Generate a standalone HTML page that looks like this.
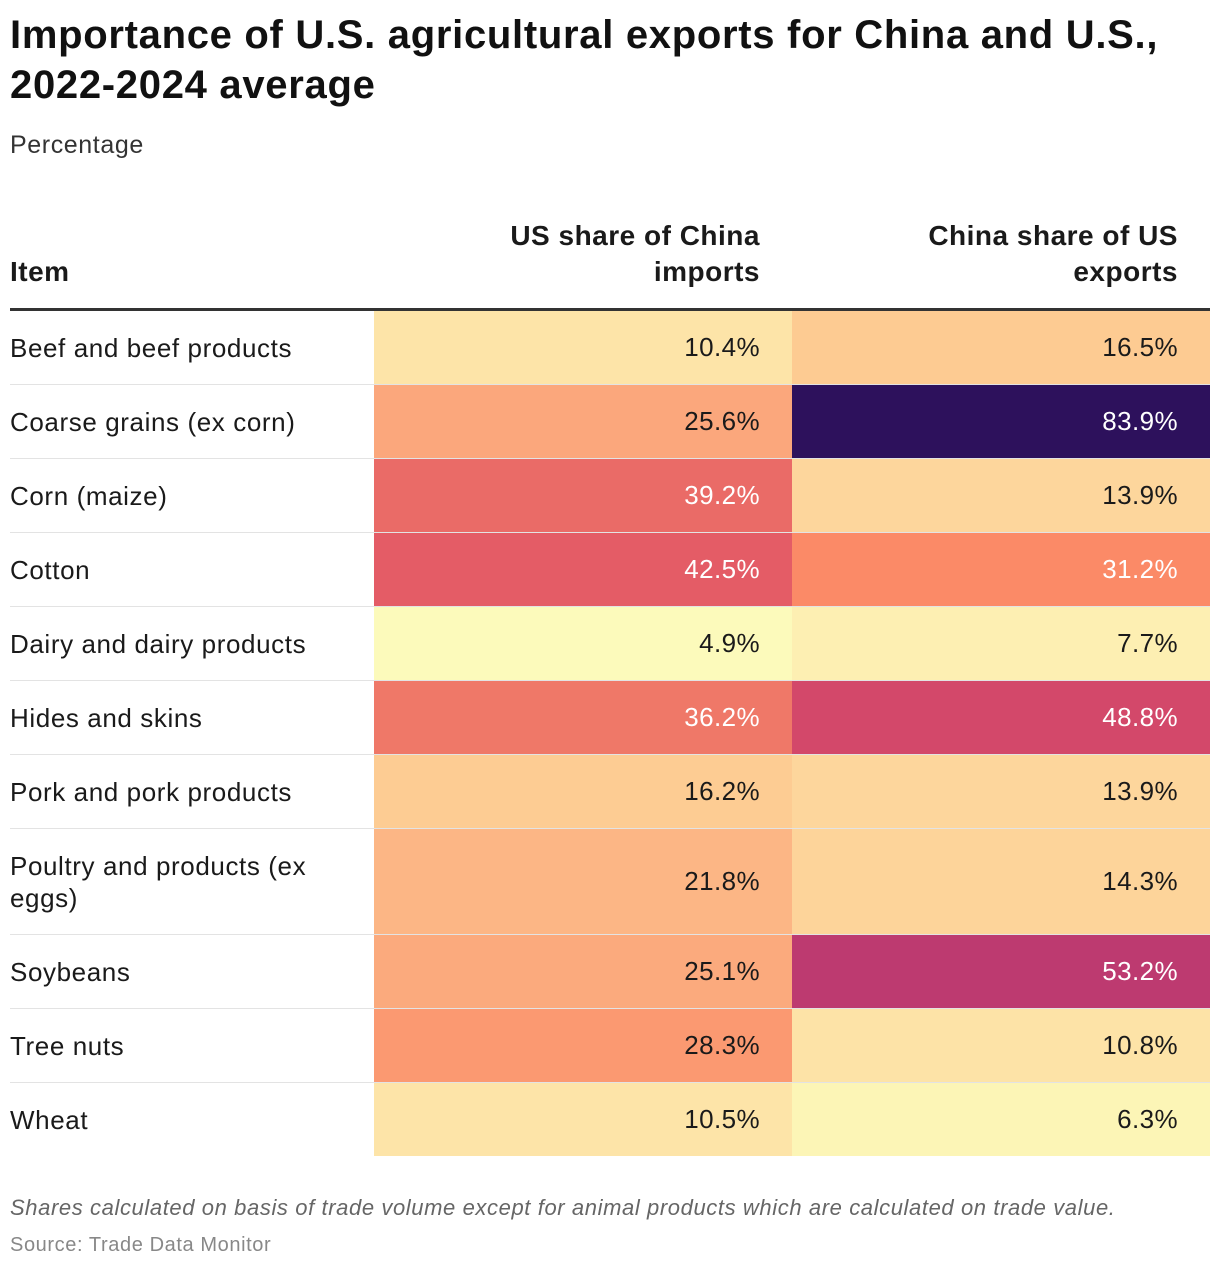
<!DOCTYPE html>
<html><head><meta charset="utf-8">
<style>
body{margin:0;background:#fff;font-family:"Liberation Sans",Arial,sans-serif;color:#1a1a1a;letter-spacing:0.6px;}
#wrap{position:relative;width:1220px;height:1270px;overflow:hidden;}
h1{position:absolute;left:10px;top:10px;margin:0;font-size:40px;line-height:50px;font-weight:bold;color:#111;width:1210px;letter-spacing:0.7px;}
.sub{position:absolute;left:10px;top:131px;font-size:25px;color:#333;}
table{position:absolute;left:10px;top:200px;border-collapse:collapse;width:1200px;}
th{font-size:28px;font-weight:bold;text-align:right;vertical-align:bottom;padding:0 32px 18px 0;line-height:36px;border-bottom:3px solid #333;height:90px;letter-spacing:0.5px;}
th.item{text-align:left;padding-left:0;}
td{font-size:26px;height:73px;border-bottom:1px solid #e3e3e3;padding:0;}
tr:last-child td{border-bottom:none;}
td.name{padding-left:0;line-height:32px;}
td.val{text-align:right;padding-right:32px;letter-spacing:0.4px;}
.foot{position:absolute;left:10px;top:1195px;font-size:22px;font-style:italic;color:#666;}
.src{position:absolute;left:10px;top:1234px;font-size:20px;color:#888;}
</style></head><body>
<div id="wrap">
<h1>Importance of U.S. agricultural exports for China and U.S., 2022-2024 average</h1>
<div class="sub">Percentage</div>
<table>
<colgroup><col style="width:364px"><col style="width:418px"><col style="width:418px"></colgroup>
<thead><tr>
<th class="item">Item</th>
<th>US share of China<br>imports</th>
<th>China share of US<br>exports</th>
</tr></thead>
<tbody id="tb"></tbody>
</table>
<div class="foot">Shares calculated on basis of trade volume except for animal products which are calculated on trade value.</div>
<div class="src">Source: Trade Data Monitor</div>
</div>
<script>
const categories=["Beef and beef products","Coarse grains (ex corn)","Corn (maize)","Cotton","Dairy and dairy products","Hides and skins","Pork and pork products","Poultry and products (ex eggs)","Soybeans","Tree nuts","Wheat"];
const usShareChinaImports=[10.4,25.6,39.2,42.5,4.9,36.2,16.2,21.8,25.1,28.3,10.5];
const chinaShareUsExports=[16.5,83.9,13.9,31.2,7.7,48.8,13.9,14.3,53.2,10.8,6.3];
const colorStops=[[0,"#fcfdbf"],[4.9,"#fcfabb"],[10.5,"#fde4a8"],[16.5,"#fdcb92"],[25.5,"#fba87c"],[31,"#fb8b67"],[36.2,"#ef7868"],[42.5,"#e45c66"],[48.8,"#d3486a"],[53.2,"#bd3a70"],[83.9,"#2d115c"],[100,"#000004"]];
function hex(c){return [1,3,5].map(i=>parseInt(c.substr(i,2),16));}
function color(v){
  for(let i=1;i<colorStops.length;i++){
    if(v<=colorStops[i][0]){
      const [a,ca]=colorStops[i-1],[b,cb]=colorStops[i];
      const t=(v-a)/(b-a),x=hex(ca),y=hex(cb);
      return "rgb("+x.map((q,k)=>Math.round(q+(y[k]-q)*t)).join(",")+")";
    }
  }
  return "#000004";
}
const tb=document.getElementById('tb');
categories.forEach((c,i)=>{
  const tr=document.createElement('tr');
  
  
  const n=document.createElement('td');n.className='name';
  
  
  n.textContent=c;
  if(c.startsWith("Poultry")){n.innerHTML="Poultry and products (ex<br>eggs)";tr.style.height="106px";}
  tr.appendChild(n);
  [usShareChinaImports[i],chinaShareUsExports[i]].forEach((v,j)=>{
    const td=document.createElement('td');td.className='val';
    
    
    td.style.background=color(v);
    td.style.color=v>30?"#fff":"#1a1a1a";
    td.textContent=v.toFixed(1)+"%";
    tr.appendChild(td);
  });
  tb.appendChild(tr);
});
</script>
</body></html>
